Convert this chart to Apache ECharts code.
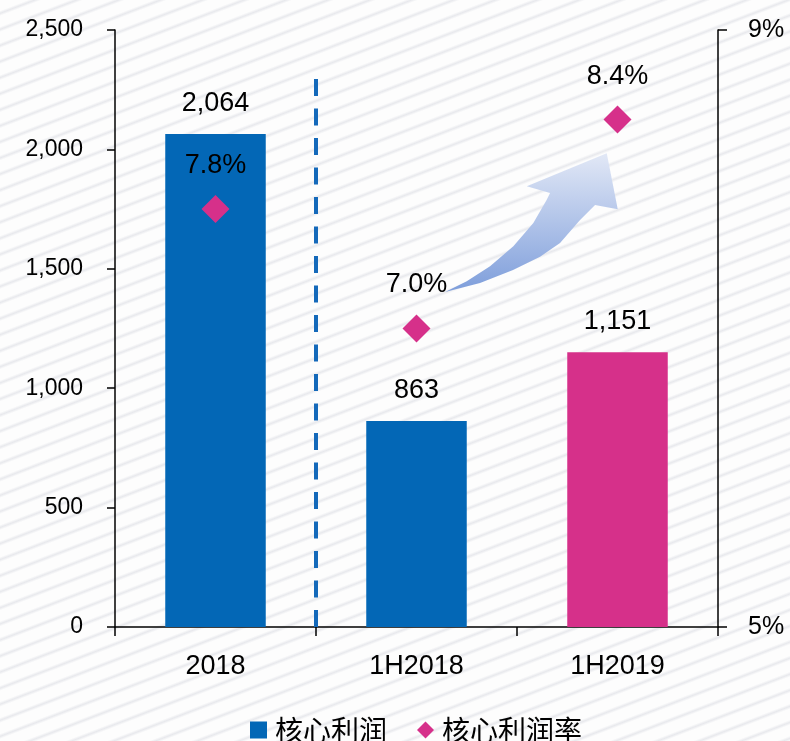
<!DOCTYPE html>
<html>
<head>
<meta charset="utf-8">
<script src="https://cdn.jsdelivr.net/npm/echarts@6/dist/echarts.min.js"></script>
<style>
html,body{margin:0;padding:0;}
body{width:790px;height:741px;overflow:hidden;
background:repeating-linear-gradient(159deg,#fdfdfd 0px,#fdfdfd 10px,#e8e9ed 12.5px,#fdfdfd 15px);}
#c{width:790px;height:741px;}
</style>
</head>
<body>
<div id="c"></div>
<script>
const categories = ['2018', '1H2018', '1H2019'];
const coreProfit = [2064, 863, 1151];
const coreMargin = [7.8, 7.0, 8.4];
const leftTicks = { min: 0, max: 2500, interval: 500 };
const rightTicks = { min: 5, max: 9, interval: 4 };
const seriesNames = ['核心利润', '核心利润率'];
const dividerLine = [[1, 2295], [1, 0]];
const arrowTail = [1.642, 7.245];

const BLUE = '#0367B6';
const PINK = '#D6308A';
const FONT = "'Liberation Sans', 'Noto Sans', sans-serif";

const chart = echarts.init(document.getElementById('c'), null, { renderer: 'canvas' });

const option = {
  backgroundColor: 'transparent',
  animation: false,
  grid: { left: 115, right: 72, top: 30, bottom: 114 },
  legend: {
    data: [{ name: seriesNames[0], icon: 'rect' }, { name: seriesNames[1], icon: 'diamond' }],
    left: 245, top: 711,
    itemWidth: 17, itemHeight: 17, itemGap: 30,
    textStyle: { fontSize: 28, color: '#000', fontFamily: "'Noto Sans CJK SC', sans-serif", padding: [0, 0, 0, 3] }
  },
  xAxis: [
    {
      type: 'category', data: categories,
      axisLine: { lineStyle: { color: '#000', width: 1.5 } },
      axisTick: { show: true, length: 9, lineStyle: { color: '#000', width: 1.5 } },
      axisLabel: { fontSize: 27, color: '#000', margin: 26, fontFamily: FONT },
      splitLine: { show: false }
    },
    { type: 'value', min: 0, max: 3, show: false }
  ],
  yAxis: [
    {
      type: 'value', min: leftTicks.min, max: leftTicks.max, interval: leftTicks.interval,
      axisLine: { show: true, lineStyle: { color: '#000', width: 1.5 } },
      axisTick: { show: true, length: 8, lineStyle: { color: '#000', width: 1.5 } },
      axisLabel: { fontSize: 23, color: '#000', margin: 32, fontFamily: FONT,
        formatter: v => v.toLocaleString('en-US') },
      splitLine: { show: false }
    },
    {
      type: 'value', position: 'right', min: rightTicks.min, max: rightTicks.max, interval: rightTicks.interval,
      axisLine: { show: true, lineStyle: { color: '#000', width: 1.5 } },
      axisTick: { show: true, length: 9, lineStyle: { color: '#000', width: 1.5 } },
      axisLabel: { fontSize: 25, color: '#000', margin: 30, fontFamily: FONT, formatter: '{value}%' },
      splitLine: { show: false }
    }
  ],
  series: [
    {
      name: seriesNames[0], type: 'bar', barWidth: '50%',
      itemStyle: { color: BLUE },
      data: coreProfit.map((v, i) => i === 2 ? { value: v, itemStyle: { color: PINK } } : v),
      label: { show: true, position: 'top', distance: 17, fontSize: 27, color: '#000', fontFamily: FONT,
        formatter: p => p.value.toLocaleString('en-US') },
      z: 2
    },
    {
      name: seriesNames[1], type: 'scatter', yAxisIndex: 1, symbol: 'diamond', symbolSize: 28,
      itemStyle: { color: PINK, opacity: 1 },
      data: coreMargin,
      label: { show: true, position: 'top', distance: 16, fontSize: 27, color: '#000', fontFamily: FONT,
        formatter: p => p.value.toFixed(1) + '%' },
      z: 5
    },
    {
      name: 'divider', type: 'line', xAxisIndex: 1, yAxisIndex: 0, data: dividerLine,
      symbol: 'none', silent: true,
      lineStyle: { color: '#1469BA', width: 4, type: [17, 12.5] },
      z: 3
    }
  ]
};
chart.setOption(option);

// decorative curved arrow, anchored through the axes
const t = chart.convertToPixel({ xAxisIndex: 1, yAxisIndex: 1 }, arrowTail);
const rel = [
  [0, 0], [21.7, -10.6], [45, -25.6], [68.3, -45.6], [88.3, -69], [101.7, -92.3], [105, -99],
  [81.7, -105.6], [161.7, -138.7], [172.7, -82.7], [150, -87],
  [135, -72], [115, -49], [95, -35.3], [68, -22], [35, -9]
];
chart.setOption({
  graphic: [{
    type: 'polygon', silent: true, z: 4,
    shape: { points: rel.map(p => [t[0] + p[0], t[1] + p[1]]) },
    style: {
      fill: new echarts.graphic.LinearGradient(0, 0, 0, 1, [
        { offset: 0, color: '#e2e8f6' },
        { offset: 1, color: '#7e9edb' }
      ])
    }
  }]
});
</script>
</body>
</html>
